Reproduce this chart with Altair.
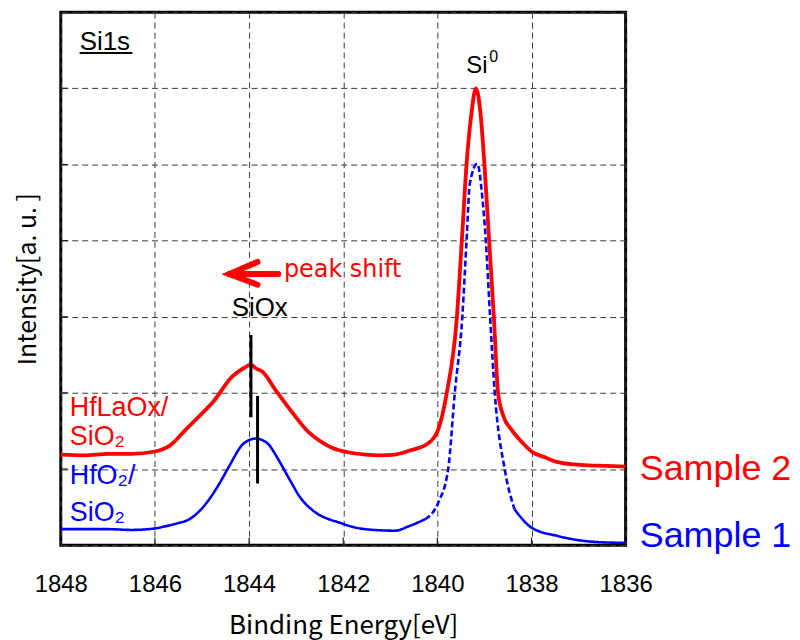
import altair as alt
import pandas as pd

# ---- data ----
red_E = [1848.0, 1847.5, 1847.0, 1846.5, 1846.0, 1845.7, 1845.34, 1845.05, 1844.78, 1844.35,
         1844.1, 1843.96, 1843.85, 1843.72, 1843.44, 1843.08, 1842.73, 1842.45, 1842.24, 1841.9,
         1841.53, 1841.2, 1840.9, 1840.6, 1840.19, 1839.98, 1839.8, 1839.59, 1839.48, 1839.38,
         1839.28, 1839.18, 1839.08, 1839.0, 1838.9, 1838.8, 1838.71, 1838.6, 1838.43, 1838.2,
         1838.0, 1837.7, 1837.44, 1837.1, 1836.87, 1836.4, 1836.0]
red_I = [1.19, 1.18, 1.20, 1.20, 1.23, 1.30, 1.52, 1.70, 1.87, 2.22,
         2.33, 2.37, 2.32, 2.28, 2.04, 1.74, 1.48, 1.35, 1.28, 1.22,
         1.19, 1.18, 1.19, 1.24, 1.34, 1.52, 2.00, 2.96, 4.00, 5.00,
         5.65, 6.00, 5.65, 5.00, 4.00, 3.00, 2.00, 1.70, 1.52, 1.35,
         1.23, 1.15, 1.09, 1.06, 1.05, 1.04, 1.03]

blue_E = [1848.0, 1847.0, 1846.5, 1846.0, 1845.76, 1845.5, 1845.27, 1845.05, 1844.85, 1844.62,
          1844.42, 1844.14, 1844.0, 1843.86, 1843.72, 1843.58, 1843.45, 1843.3, 1843.1, 1842.94,
          1842.59, 1842.3, 1842.1, 1841.8, 1841.53, 1840.9, 1840.6, 1840.26, 1839.98, 1839.77,
          1839.63, 1839.47, 1839.38, 1839.31, 1839.15, 1839.05, 1838.97, 1838.88, 1838.78, 1838.57,
          1838.36, 1838.0, 1837.44, 1836.59, 1836.0]
blue_I = [0.21, 0.21, 0.20, 0.22, 0.25, 0.29, 0.34, 0.45, 0.60, 0.82,
          1.04, 1.32, 1.38, 1.40, 1.38, 1.32, 1.20, 1.04, 0.82, 0.65,
          0.43, 0.34, 0.30, 0.24, 0.21, 0.19, 0.25, 0.34, 0.56, 1.00,
          2.00, 3.00, 4.00, 4.75, 5.01, 4.60, 4.00, 3.00, 2.00, 1.00,
          0.47, 0.23, 0.12, 0.04, 0.03]
blue_dash_from = 1840.26   # dashed portion of the blue trace (steep Si0 peak)
blue_dash_to = 1838.36

x_ticks = [1848, 1846, 1844, 1842, 1840, 1838, 1836]
y_grid = [0, 1, 2, 3, 4, 5, 6, 7]
x_inner_ticks = [1846, 1844, 1842, 1840, 1838]
y_inner_ticks = [1, 2, 3, 4, 5, 6]
tick_len_E = 0.15   # inward tick length on the left edge (eV)
tick_len_I = 0.10   # inward tick length on the bottom edge (a.u.)

# peak markers (black vertical bars)
mark_E = [1843.96, 1843.82]
mark_I1 = [1.68, 0.81]
mark_I2 = [2.76, 1.96]

# peak-shift arrow: shaft and chevron
arrow_seg = ["shaft", "shaft", "head", "head", "head"]
arrow_ord = [0, 1, 0, 1, 2]
arrow_E = [1844.42, 1843.38, 1843.82, 1844.42, 1843.82]
arrow_I = [3.56, 3.56, 3.72, 3.56, 3.42]

# annotation texts
black_txt = ["Si1s", "SiOx"]
black_E = [1847.60, 1844.37]
black_I = [6.50, 3.01]
underline_E = [1847.60, 1846.48]
underline_I = 6.465
si0_E, si0_I = 1839.16, 6.20
sup_E, sup_I = 1838.90, 6.34

red_txt = ["HfLaOx/", "SiO\u2082"]
red_txt_E = [1847.81, 1847.81]
red_txt_I = [1.69, 1.32]
blue_txt = ["HfO\u2082/", "SiO\u2082"]
blue_txt_E = [1847.81, 1847.81]
blue_txt_I = [0.80, 0.32]
peak_shift_E, peak_shift_I = 1843.26, 3.52
sample_txt = ["Sample 2", "Sample 1"]
sample_E = [1835.70, 1835.70]
sample_I = [0.86, -0.03]
sample_col = ["red", "blue"]

RED = "#ff0000"
BLUE = "#0000ff"

# ---- tables ----
red_df = pd.DataFrame({"E": red_E, "I": red_I})
rows = []
for e, i in zip(blue_E, blue_I):
    if e >= blue_dash_from:
        rows.append((e, i, "a", "solid"))
    if blue_dash_to <= e <= blue_dash_from:
        rows.append((e, i, "b", "dashed"))
    if e <= blue_dash_to:
        rows.append((e, i, "c", "solid"))
blue_df = pd.DataFrame(rows, columns=["E", "I", "seg", "dash"])

xs = alt.Scale(domain=[1836, 1848], reverse=True, nice=False, zero=False)
ys = alt.Scale(domain=[0, 7], nice=False, zero=False)

x_axis = alt.Axis(values=x_ticks, format="d", title="Binding Energy[eV]", grid=True,
                  gridDash=[6, 4], gridColor="#3a3a3a", gridWidth=1, domain=False, ticks=False,
                  labelFont="Liberation Sans", labelFontSize=24, labelColor="black",
                  labelBaseline="alphabetic", labelPadding=47, labelFlush=False,
                  titleFont="Noto Sans CJK JP", titleFontSize=26, titleFontWeight="normal",
                  titleColor="black", titleBaseline="alphabetic", titleY=89)
y_axis = alt.Axis(values=y_grid, labels=False, title="Intensity[a. u. ]", grid=True,
                  gridDash=[6, 4], gridColor="#3a3a3a", gridWidth=1, domain=False, ticks=False,
                  titleFont="Noto Sans CJK JP", titleFontSize=25, titleFontWeight="normal",
                  titleColor="black", titleBaseline="alphabetic", titleX=-25)

X = alt.X("E:Q", scale=xs, axis=x_axis)
Y = alt.Y("I:Q", scale=ys, axis=y_axis)

blue_line = alt.Chart(blue_df).mark_line(color=BLUE, strokeWidth=2.6, interpolate="monotone").encode(
    x=X, y=Y,
    detail="seg:N",
    strokeDash=alt.StrokeDash("dash:N", scale=alt.Scale(domain=["solid", "dashed"],
                                                        range=[[1, 0], [6, 3]]), legend=None),
)

red_line = alt.Chart(red_df).mark_line(color=RED, strokeWidth=3.8, interpolate="monotone").encode(
    x=X, y=Y)

# inward ticks on the left and bottom frame
left_ticks = alt.Chart(pd.DataFrame({"I": y_inner_ticks, "E": [x_ticks[0]] * len(y_inner_ticks),
                                     "E2": [x_ticks[0] - tick_len_E] * len(y_inner_ticks)})).mark_rule(
    color="#222222", strokeWidth=1.2).encode(x=X, x2="E2:Q", y=Y)
bottom_ticks = alt.Chart(pd.DataFrame({"E": x_inner_ticks, "I": [0] * len(x_inner_ticks),
                                       "I2": [tick_len_I] * len(x_inner_ticks)})).mark_rule(
    color="#222222", strokeWidth=1.2).encode(x=X, y=Y, y2="I2:Q")

markers = alt.Chart(pd.DataFrame({"E": mark_E, "I": mark_I1, "I2": mark_I2})).mark_rule(
    color="black", strokeWidth=3).encode(x=X, y=Y, y2="I2:Q")

arrow = alt.Chart(pd.DataFrame({"E": arrow_E, "I": arrow_I, "seg": arrow_seg, "o": arrow_ord})).mark_line(
    color=RED, strokeWidth=6, strokeCap="round", strokeJoin="miter").encode(
    x=X, y=Y, detail="seg:N", order="o:Q")

underline = alt.Chart(pd.DataFrame({"E": [underline_E[0]], "E2": [underline_E[1]], "I": [underline_I]})).mark_rule(
    color="black", strokeWidth=2).encode(x=X, x2="E2:Q", y=Y)

black_text = alt.Chart(pd.DataFrame({"E": black_E, "I": black_I, "t": black_txt})).mark_text(
    font="Liberation Sans", fontSize=26, align="left", baseline="alphabetic", color="black").encode(
    x=X, y=Y, text="t:N")

si0 = alt.Chart(pd.DataFrame({"E": [si0_E], "I": [si0_I], "t": ["Si"]})).mark_text(
    font="Liberation Sans", fontSize=24, align="center", baseline="alphabetic", color="black").encode(
    x=X, y=Y, text="t:N")
sup = alt.Chart(pd.DataFrame({"E": [sup_E], "I": [sup_I], "t": ["0"]})).mark_text(
    font="Liberation Sans", fontSize=16, align="left", baseline="alphabetic", color="black").encode(
    x=X, y=Y, text="t:N")

red_text = alt.Chart(pd.DataFrame({"E": red_txt_E, "I": red_txt_I, "t": red_txt})).mark_text(
    font="Liberation Sans", fontSize=27, align="left", baseline="alphabetic", color=RED).encode(
    x=X, y=Y, text="t:N")
blue_text = alt.Chart(pd.DataFrame({"E": blue_txt_E, "I": blue_txt_I, "t": blue_txt})).mark_text(
    font="Liberation Sans", fontSize=27, align="left", baseline="alphabetic", color=BLUE).encode(
    x=X, y=Y, text="t:N")

peak_text = alt.Chart(pd.DataFrame({"E": [peak_shift_E], "I": [peak_shift_I], "t": ["peak shift"]})).mark_text(
    font="DejaVu Sans", fontSize=24, align="left", baseline="alphabetic", color=RED).encode(
    x=X, y=Y, text="t:N")

sample_text = alt.Chart(pd.DataFrame({"E": sample_E, "I": sample_I, "t": sample_txt, "c": sample_col})).mark_text(
    font="Liberation Sans", fontSize=36, align="left", baseline="alphabetic").encode(
    x=X, y=Y, text="t:N",
    color=alt.Color("c:N", scale=alt.Scale(domain=["red", "blue"], range=[RED, BLUE]), legend=None))

chart = alt.layer(
    left_ticks, bottom_ticks, blue_line, red_line, markers, arrow, underline, black_text, si0, sup,
    red_text, blue_text, peak_text, sample_text,
).properties(
    width=567, height=535,
    padding={"left": 53, "top": 3, "right": 167, "bottom": 94},
    autosize=alt.AutoSizeParams(type="none"),
    background="white",
).configure_view(stroke="black", strokeWidth=3)

chart.save("out.html", embed_options={"renderer": "svg", "actions": False})
